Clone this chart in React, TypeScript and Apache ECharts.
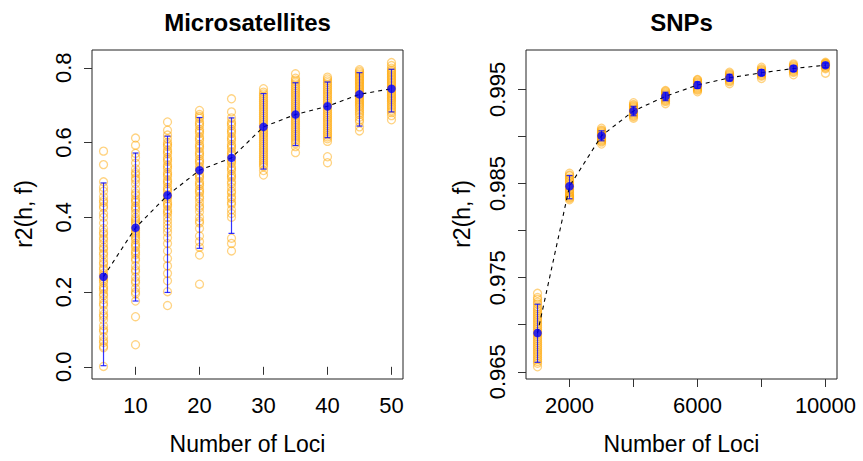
import React, { useEffect, useRef } from "react";
import * as echarts from "echarts";

// ---------- Data ----------
const msLoci = [5, 10, 15, 20, 25, 30, 35, 40, 45, 50];
const msMean = [0.241, 0.372, 0.459, 0.526, 0.559, 0.642, 0.675, 0.697, 0.729, 0.744];
const msLow = [0.003, 0.176, 0.199, 0.317, 0.357, 0.529, 0.592, 0.613, 0.644, 0.682];
const msHigh = [0.492, 0.572, 0.617, 0.667, 0.666, 0.731, 0.76, 0.762, 0.787, 0.796];

const ms05 = [0.577, 0.541, 0.495, 0.48, 0.47, 0.455, 0.445, 0.44, 0.43, 0.425, 0.41, 0.4, 0.385, 0.37, 0.36, 0.355, 0.345, 0.34, 0.33, 0.32, 0.315, 0.305, 0.3, 0.29, 0.28, 0.275, 0.265, 0.26, 0.25, 0.245, 0.24, 0.235, 0.23, 0.225, 0.215, 0.21, 0.205, 0.195, 0.19, 0.18, 0.17, 0.165, 0.15, 0.14, 0.135, 0.125, 0.11, 0.1, 0.095, 0.08, 0.07, 0.065, 0.055, 0.051, 0.001];
const ms10 = [0.612, 0.593, 0.571, 0.56, 0.545, 0.53, 0.52, 0.515, 0.505, 0.5, 0.49, 0.475, 0.465, 0.46, 0.45, 0.445, 0.44, 0.43, 0.425, 0.42, 0.41, 0.4, 0.395, 0.39, 0.385, 0.38, 0.37, 0.365, 0.36, 0.355, 0.35, 0.345, 0.34, 0.33, 0.325, 0.32, 0.31, 0.305, 0.3, 0.29, 0.285, 0.27, 0.26, 0.255, 0.24, 0.23, 0.225, 0.21, 0.2, 0.195, 0.176, 0.134, 0.059];
const ms15 = [0.655, 0.633, 0.62, 0.61, 0.6, 0.595, 0.59, 0.58, 0.575, 0.57, 0.56, 0.555, 0.55, 0.54, 0.535, 0.53, 0.52, 0.515, 0.51, 0.5, 0.495, 0.49, 0.48, 0.475, 0.47, 0.46, 0.455, 0.45, 0.44, 0.435, 0.43, 0.42, 0.415, 0.41, 0.4, 0.39, 0.38, 0.37, 0.36, 0.345, 0.33, 0.31, 0.29, 0.27, 0.25, 0.23, 0.201, 0.164];
const ms20 = [0.686, 0.675, 0.67, 0.665, 0.655, 0.65, 0.645, 0.635, 0.63, 0.625, 0.615, 0.61, 0.605, 0.595, 0.59, 0.585, 0.575, 0.57, 0.565, 0.555, 0.55, 0.545, 0.535, 0.53, 0.525, 0.515, 0.51, 0.505, 0.495, 0.49, 0.485, 0.475, 0.47, 0.465, 0.455, 0.45, 0.44, 0.43, 0.425, 0.415, 0.4, 0.39, 0.385, 0.37, 0.35, 0.335, 0.32, 0.299, 0.221];
const ms25 = [0.717, 0.682, 0.666, 0.655, 0.65, 0.645, 0.635, 0.63, 0.625, 0.615, 0.61, 0.605, 0.595, 0.59, 0.585, 0.575, 0.57, 0.565, 0.555, 0.55, 0.545, 0.535, 0.53, 0.525, 0.515, 0.51, 0.505, 0.495, 0.49, 0.48, 0.47, 0.465, 0.455, 0.45, 0.44, 0.435, 0.42, 0.41, 0.4, 0.344, 0.33, 0.31];
const ms30 = [0.744, 0.735, 0.73, 0.725, 0.72, 0.715, 0.71, 0.705, 0.7, 0.695, 0.69, 0.685, 0.68, 0.675, 0.67, 0.665, 0.66, 0.655, 0.65, 0.645, 0.64, 0.635, 0.63, 0.625, 0.62, 0.615, 0.61, 0.605, 0.6, 0.595, 0.59, 0.585, 0.58, 0.575, 0.57, 0.565, 0.56, 0.555, 0.55, 0.545, 0.54, 0.535, 0.525, 0.513];
const ms35 = [0.784, 0.772, 0.767, 0.762, 0.757, 0.752, 0.747, 0.742, 0.737, 0.732, 0.727, 0.722, 0.717, 0.712, 0.707, 0.702, 0.697, 0.692, 0.687, 0.682, 0.677, 0.672, 0.667, 0.662, 0.657, 0.652, 0.647, 0.642, 0.637, 0.632, 0.627, 0.622, 0.617, 0.612, 0.607, 0.602, 0.597, 0.589, 0.573];
const ms40 = [0.775, 0.77, 0.765, 0.76, 0.755, 0.75, 0.745, 0.74, 0.735, 0.73, 0.725, 0.72, 0.715, 0.71, 0.705, 0.7, 0.695, 0.69, 0.685, 0.68, 0.675, 0.67, 0.665, 0.66, 0.655, 0.65, 0.645, 0.64, 0.635, 0.63, 0.625, 0.62, 0.615, 0.61, 0.603, 0.562, 0.546];
const ms45 = [0.795, 0.791, 0.787, 0.783, 0.779, 0.775, 0.771, 0.767, 0.763, 0.759, 0.755, 0.751, 0.747, 0.743, 0.739, 0.735, 0.731, 0.727, 0.723, 0.719, 0.715, 0.711, 0.707, 0.703, 0.699, 0.695, 0.69, 0.685, 0.68, 0.675, 0.668, 0.66, 0.655, 0.642, 0.631];
const ms50 = [0.814, 0.806, 0.799, 0.794, 0.79, 0.786, 0.782, 0.778, 0.774, 0.77, 0.766, 0.762, 0.758, 0.754, 0.75, 0.746, 0.742, 0.738, 0.734, 0.73, 0.726, 0.722, 0.718, 0.714, 0.71, 0.705, 0.7, 0.695, 0.69, 0.685, 0.68, 0.672, 0.661];
const msReplicates = [ms05, ms10, ms15, ms20, ms25, ms30, ms35, ms40, ms45, ms50];

const snpLoci = [1000, 2000, 3000, 4000, 5000, 6000, 7000, 8000, 9000, 10000];
const snpMean = [0.96912, 0.98471, 0.99007, 0.99271, 0.99427, 0.99546, 0.99623, 0.99676, 0.99722, 0.99757];
const snpLow = [0.96601, 0.98338, 0.98954, 0.9922, 0.9938, 0.9951, 0.9959, 0.9965, 0.9969, 0.9973];
const snpHigh = [0.97218, 0.98584, 0.9906, 0.9932, 0.9947, 0.9958, 0.9966, 0.9971, 0.9975, 0.9978];

const snp01 = [0.97334, 0.9729, 0.9727, 0.9724, 0.9722, 0.9719, 0.9717, 0.9715, 0.9713, 0.9711, 0.9709, 0.9707, 0.9705, 0.9703, 0.9701, 0.9699, 0.9697, 0.9695, 0.9693, 0.9691, 0.9689, 0.9687, 0.9685, 0.9683, 0.9681, 0.9679, 0.9677, 0.9675, 0.9673, 0.9671, 0.9669, 0.9667, 0.9665, 0.9663, 0.9661, 0.9659, 0.96553];
const snp02 = [0.98609, 0.9859, 0.9858, 0.9856, 0.9855, 0.9853, 0.9852, 0.985, 0.9849, 0.9847, 0.9846, 0.9844, 0.9843, 0.9841, 0.984, 0.9838, 0.9837, 0.9836, 0.9835, 0.9834, 0.98327];
const snp03 = [0.99088, 0.9907, 0.9906, 0.9905, 0.9904, 0.9903, 0.9902, 0.9901, 0.99, 0.9899, 0.9898, 0.9897, 0.9896, 0.9895, 0.9894, 0.98919];
const snp04 = [0.99359, 0.9934, 0.9933, 0.9932, 0.9931, 0.993, 0.9929, 0.9928, 0.9927, 0.9926, 0.9925, 0.9924, 0.9923, 0.9922, 0.9921, 0.99194];
const snp05 = [0.99489, 0.9948, 0.9947, 0.9946, 0.9945, 0.9944, 0.9943, 0.9942, 0.9941, 0.994, 0.9939, 0.9938, 0.9937, 0.99348];
const snp06 = [0.99606, 0.996, 0.9959, 0.9958, 0.9957, 0.9956, 0.9955, 0.9954, 0.9953, 0.9952, 0.9951, 0.995, 0.9949, 0.99475];
const snp07 = [0.99683, 0.9967, 0.9966, 0.9965, 0.9964, 0.9963, 0.9962, 0.9961, 0.996, 0.9959, 0.9958, 0.9956];
const snp08 = [0.99736, 0.9972, 0.9971, 0.997, 0.9969, 0.9968, 0.9967, 0.9966, 0.9965, 0.9964, 0.99616];
const snp09 = [0.99771, 0.9976, 0.9975, 0.9974, 0.9973, 0.9972, 0.9971, 0.997, 0.9969, 0.9968, 0.99655];
const snp10 = [0.99789, 0.9978, 0.99775, 0.9977, 0.99765, 0.9976, 0.9975, 0.9974, 0.9973, 0.9972, 0.99672];
const snpReplicates = [snp01, snp02, snp03, snp04, snp05, snp06, snp07, snp08, snp09, snp10];

const msXTicks = [10, 20, 30, 40, 50];
const msYTicks = [0, 0.2, 0.4, 0.6, 0.8];
const snpXTicks = [2000, 4000, 6000, 8000, 10000];
const snpXLabels = [2000, 6000, 10000];
const snpYTicks = [0.965, 0.97, 0.975, 0.98, 0.985, 0.99, 0.995];
const snpYLabels = [0.965, 0.975, 0.985, 0.995];

const FONT = "'Liberation Sans', Arial, Helvetica, sans-serif";

function flatten(xs: number[], groups: number[][]) {
  const out: number[][] = [];
  groups.forEach((g, i) => g.forEach((v) => out.push([xs[i], v])));
  return out;
}

function errorRender(params: any, api: any) {
  const x = api.value(0);
  const pLo = api.coord([x, api.value(1)]);
  const pHi = api.coord([x, api.value(2)]);
  const w = 3;
  const style = { stroke: "rgba(0,0,255,0.8)", lineWidth: 1.2 };
  return {
    type: "group",
    children: [
      { type: "line", shape: { x1: pLo[0], y1: pLo[1], x2: pHi[0], y2: pHi[1] }, style },
      { type: "line", shape: { x1: pLo[0] - w, y1: pLo[1], x2: pLo[0] + w, y2: pLo[1] }, style },
      { type: "line", shape: { x1: pHi[0] - w, y1: pHi[1], x2: pHi[0] + w, y2: pHi[1] }, style },
    ],
  };
}

function panelSeries(idx: number, xs: number[], reps: number[][], mean: number[], lo: number[], hi: number[]) {
  return [
    {
      type: "scatter",
      xAxisIndex: idx,
      yAxisIndex: idx,
      symbol: "circle",
      symbolSize: 8,
      itemStyle: { color: "rgba(0,0,0,0)", borderColor: "rgba(255,165,0,0.62)", borderWidth: 1.3 },
      data: flatten(xs, reps),
      silent: true,
      z: 1,
    },
    {
      type: "custom",
      xAxisIndex: idx,
      yAxisIndex: idx,
      renderItem: errorRender,
      encode: { x: 0, y: [1, 2] },
      data: xs.map((x, i) => [x, lo[i], hi[i]]),
      silent: true,
      z: 2,
    },
    {
      type: "line",
      xAxisIndex: idx,
      yAxisIndex: idx,
      symbol: "none",
      lineStyle: { color: "#000", width: 1.1, type: [4, 4] },
      data: xs.map((x, i) => [x, mean[i]]),
      silent: true,
      z: 3,
    },
    {
      type: "scatter",
      xAxisIndex: idx,
      yAxisIndex: idx,
      symbol: "circle",
      symbolSize: 8.5,
      itemStyle: { color: "#0000ff" },
      data: xs.map((x, i) => [x, mean[i]]),
      silent: true,
      z: 4,
    },
  ];
}

const labelStyle = { color: "#000", fontSize: 22, fontFamily: FONT };
const tickStyle = { show: true, inside: false, length: 8, lineStyle: { color: "#333", width: 1 } };

export default function App() {
  const ref = useRef<HTMLDivElement>(null);
  useEffect(() => {
    if (!ref.current) return;
    const chart = echarts.init(ref.current, undefined, { renderer: "svg" });
    const gridBase = { top: 50, height: 329, width: 311, show: true, borderColor: "#222", borderWidth: 1, backgroundColor: "#fff" };
    chart.setOption({
      animation: false,
      backgroundColor: "#fff",
      grid: [
        { ...gridBase, left: 92 },
        { ...gridBase, left: 526 },
      ],
      xAxis: [
        {
          type: "value",
          gridIndex: 0,
          min: 3.2,
          max: 51.8,
          axisLine: { show: false },
          splitLine: { show: false },
          axisTick: { ...tickStyle, customValues: msXTicks },
          axisLabel: { ...labelStyle, margin: 15, customValues: msXTicks, formatter: (v: number) => String(v) },
        },
        {
          type: "value",
          gridIndex: 1,
          min: 640,
          max: 10360,
          axisLine: { show: false },
          splitLine: { show: false },
          axisTick: { ...tickStyle, customValues: snpXTicks },
          axisLabel: { ...labelStyle, margin: 15, customValues: snpXLabels, formatter: (v: number) => String(v) },
        },
      ],
      yAxis: [
        {
          type: "value",
          gridIndex: 0,
          min: -0.0326,
          max: 0.8476,
          axisLine: { show: false },
          splitLine: { show: false },
          axisTick: { ...tickStyle, customValues: msYTicks },
          axisLabel: { ...labelStyle, margin: 18, rotate: 90, customValues: msYTicks, formatter: (v: number) => v.toFixed(1) },
        },
        {
          type: "value",
          gridIndex: 1,
          min: 0.964236,
          max: 0.999184,
          axisLine: { show: false },
          splitLine: { show: false },
          axisTick: { ...tickStyle, customValues: snpYTicks },
          axisLabel: { ...labelStyle, margin: 18, rotate: 90, customValues: snpYLabels, formatter: (v: number) => v.toFixed(3) },
        },
      ],
      graphic: [
        { type: "text", x: 247.5, y: 22, style: { text: "Microsatellites", align: "center", verticalAlign: "middle", fontSize: 24, fontWeight: "bold", fontFamily: FONT, fill: "#000" } },
        { type: "text", x: 681.5, y: 22, style: { text: "SNPs", align: "center", verticalAlign: "middle", fontSize: 24, fontWeight: "bold", fontFamily: FONT, fill: "#000" } },
        { type: "text", x: 247.5, y: 444, style: { text: "Number of Loci", align: "center", verticalAlign: "middle", fontSize: 23, fontFamily: FONT, fill: "#000" } },
        { type: "text", x: 681.5, y: 444, style: { text: "Number of Loci", align: "center", verticalAlign: "middle", fontSize: 23, fontFamily: FONT, fill: "#000" } },
        { type: "text", x: 24, y: 214, rotation: Math.PI / 2, style: { text: "r2(h, f)", align: "center", verticalAlign: "middle", fontSize: 23, fontFamily: FONT, fill: "#000" } },
        { type: "text", x: 462, y: 214, rotation: Math.PI / 2, style: { text: "r2(h, f)", align: "center", verticalAlign: "middle", fontSize: 23, fontFamily: FONT, fill: "#000" } },
      ],
      series: [
        ...panelSeries(0, msLoci, msReplicates, msMean, msLow, msHigh),
        ...panelSeries(1, snpLoci, snpReplicates, snpMean, snpLow, snpHigh),
      ],
    });
    return () => chart.dispose();
  }, []);
  return <div ref={ref} style={{ position: "absolute", left: 0, top: 0, width: 863, height: 461 }} />;
}
